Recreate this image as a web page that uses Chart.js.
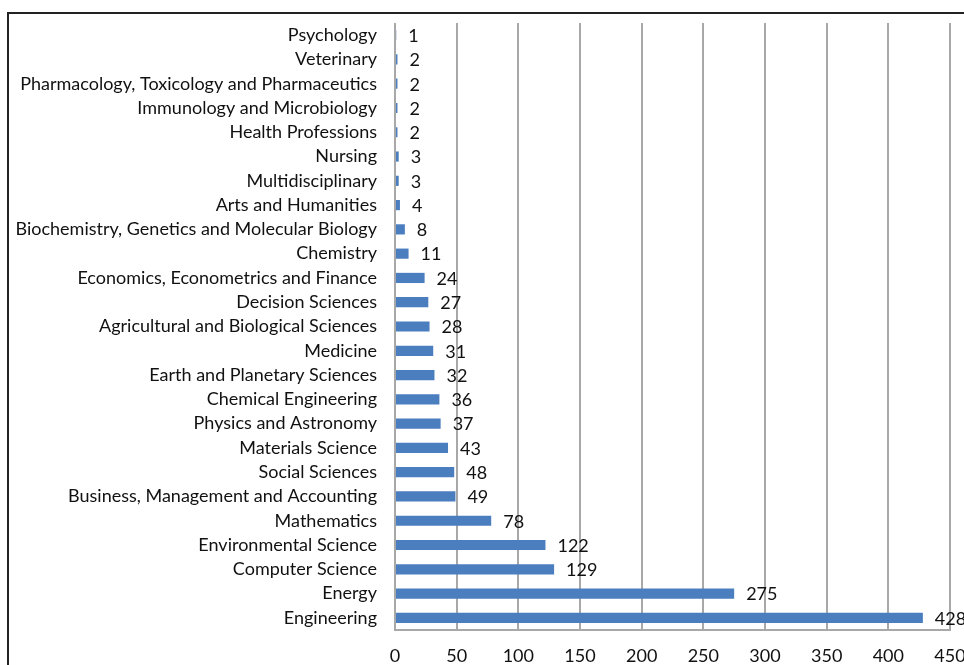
<!DOCTYPE html>
<html>
<head>
<meta charset="utf-8">
<script src="https://cdn.jsdelivr.net/npm/chart.js@4.4.1/dist/chart.umd.min.js"></script>
<style>
  html, body { margin: 0; padding: 0; background: #ffffff; }
  #wrap { position: relative; width: 964px; height: 665px; overflow: hidden; }
  canvas { display: block; }
</style>
</head>
<body>
<div id="wrap"><canvas id="c" width="964" height="665"></canvas></div>
<script>
const categories = [
  "Psychology",
  "Veterinary",
  "Pharmacology, Toxicology and Pharmaceutics",
  "Immunology and Microbiology",
  "Health Professions",
  "Nursing",
  "Multidisciplinary",
  "Arts and Humanities",
  "Biochemistry, Genetics and Molecular Biology",
  "Chemistry",
  "Economics, Econometrics and Finance",
  "Decision Sciences",
  "Agricultural and Biological Sciences",
  "Medicine",
  "Earth and Planetary Sciences",
  "Chemical Engineering",
  "Physics and Astronomy",
  "Materials Science",
  "Social Sciences",
  "Business, Management and Accounting",
  "Mathematics",
  "Environmental Science",
  "Computer Science",
  "Energy",
  "Engineering"
];
const documentCounts = [1, 2, 2, 2, 2, 3, 3, 4, 8, 11, 24, 27, 28, 31, 32, 36, 37, 43, 48, 49, 78, 122, 129, 275, 428];
const xTicks = [0, 50, 100, 150, 200, 250, 300, 350, 400, 450];

const FONT = 'Lato, "Open Sans", sans-serif';
const FONT_SIZE = 18;

const valueLabels = {
  id: 'valueLabels',
  afterDatasetsDraw(chart) {
    const ctx = chart.ctx;
    const meta = chart.getDatasetMeta(0);
    ctx.save();
    ctx.font = FONT_SIZE + 'px ' + FONT;
    ctx.fillStyle = '#111111';
    ctx.textAlign = 'left';
    ctx.textBaseline = 'middle';
    meta.data.forEach((bar, i) => {
      ctx.fillText(String(documentCounts[i]), bar.x + 12, bar.y + 1);
    });
    ctx.restore();
  }
};

const frame = {
  id: 'frame',
  afterDraw(chart) {
    const ctx = chart.ctx;
    ctx.save();
    ctx.strokeStyle = '#222222';
    ctx.lineWidth = 2;
    ctx.beginPath();
    ctx.moveTo(8, 700);
    ctx.lineTo(8, 13);
    ctx.lineTo(1000, 13);
    ctx.stroke();
    ctx.restore();
  }
};

new Chart(document.getElementById('c'), {
  type: 'bar',
  data: {
    labels: categories,
    datasets: [{
      data: documentCounts,
      backgroundColor: '#4a7ebf',
      borderWidth: 0,
      categoryPercentage: 1.0,
      barPercentage: 0.42
    }]
  },
  options: {
    indexAxis: 'y',
    responsive: false,
    animation: false,
    layout: { padding: { top: 23, right: 14, left: 0, bottom: 0 } },
    plugins: { legend: { display: false }, tooltip: { enabled: false }, title: { display: false } },
    scales: {
      x: {
        min: 0, max: 450,
        afterBuildTicks(scale) { scale.ticks = xTicks.map(v => ({ value: v })); },
        afterFit(scale) { scale.height = 35; scale.paddingLeft = 0; scale.paddingRight = 0; },
        grid: { color: '#a8a8a8', lineWidth: 2, drawTicks: false },
        border: { display: true, color: '#a8a8a8', width: 2 },
        ticks: { padding: 15, color: '#111111', font: { family: FONT, size: FONT_SIZE } }
      },
      y: {
        afterFit(scale) { scale.width = 395; scale.paddingTop = 0; scale.paddingBottom = 0; },
        grid: { display: false, drawTicks: false },
        border: { display: false },
        ticks: { padding: 18, color: '#111111', autoSkip: false, font: { family: FONT, size: FONT_SIZE } }
      }
    }
  },
  plugins: [valueLabels, frame]
});
</script>
</body>
</html>
